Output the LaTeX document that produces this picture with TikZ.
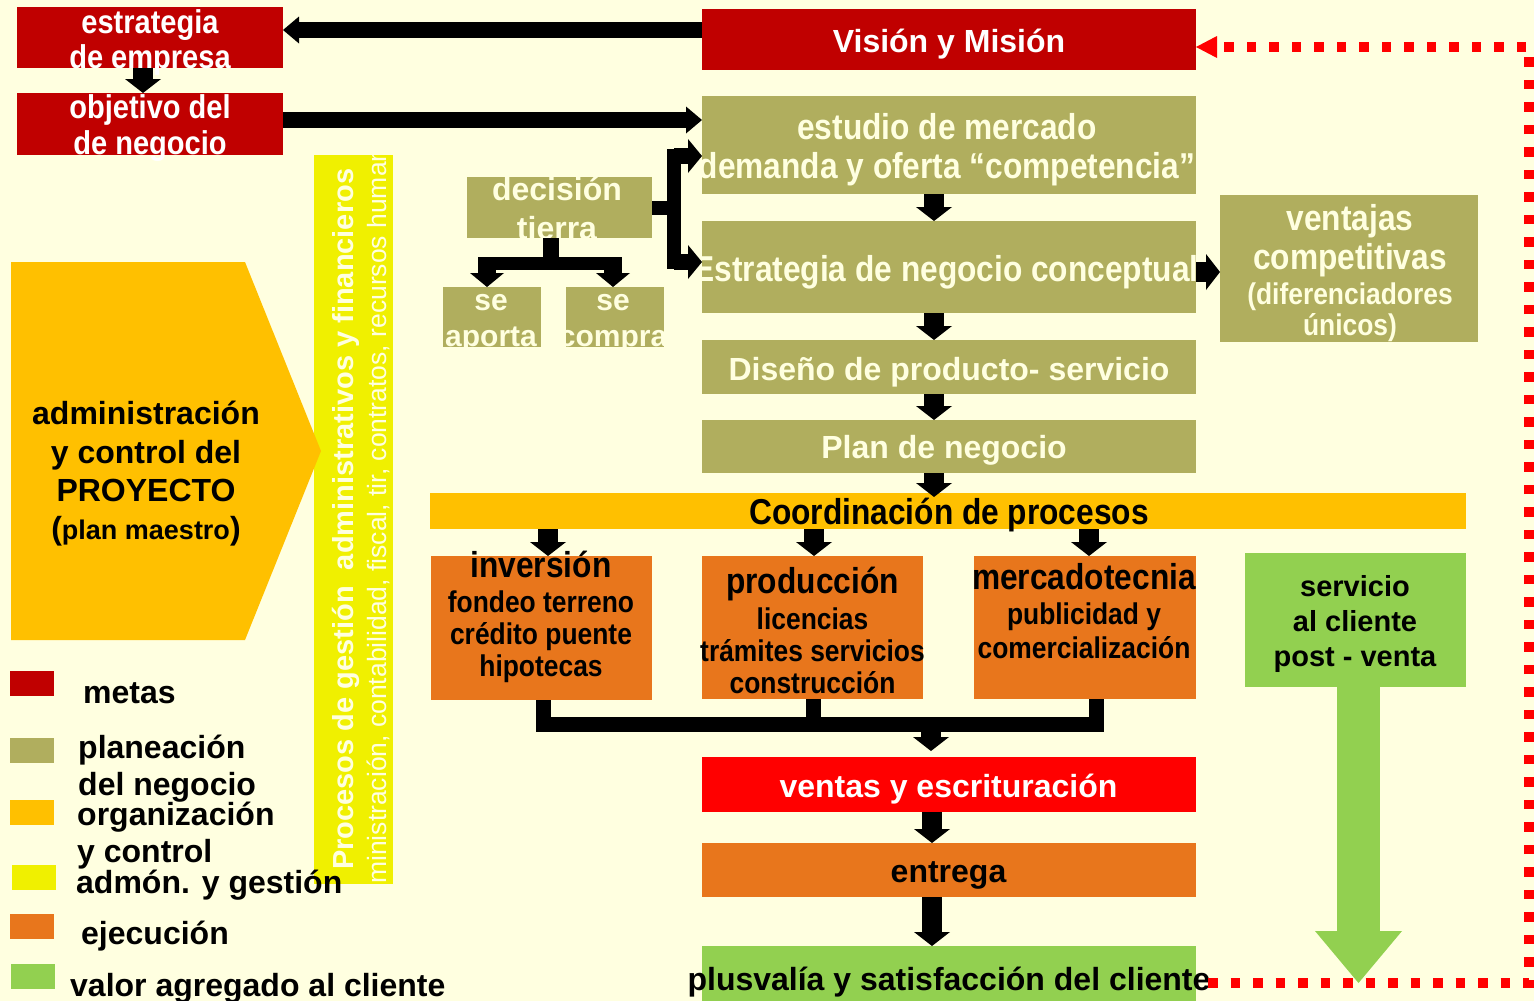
\documentclass[tikz,border=0pt]{standalone}
\usepackage{fontspec}
\setmainfont{Liberation Sans}
\newfontfamily\nar{Liberation Sans}[FakeStretch=0.88]
\usetikzlibrary{arrows.meta,calc}
\definecolor{bg}{HTML}{FFFFE0}
\definecolor{meta}{HTML}{C00000}
\definecolor{plano}{HTML}{B0AE5E}
\definecolor{organ}{HTML}{FFC000}
\definecolor{gestion}{HTML}{F0F000}
\definecolor{ejec}{HTML}{E8761C}
\definecolor{valor}{HTML}{92D050}
\definecolor{rojo}{HTML}{FF0000}
\newcommand{\fsz}[2]{\fontsize{#1}{#2}\selectfont}
\begin{document}
\begin{tikzpicture}[x=1pt,y=-1pt,
  box/.style={rectangle, inner sep=0pt, outer sep=0pt},
  txt/.style={inner sep=0pt, outer sep=0pt, align=center},
  flow/.style={draw=black, line width=20pt, -{Triangle[width=36pt,length=14pt,line width=0pt]}},
  thin flow/.style={draw=black, line width=16pt, -{Triangle[width=34pt,length=14pt,line width=0pt]}},
  long flow/.style={draw=black, line width=16pt, -{Triangle[width=27pt,length=16pt,line width=0pt]}},
  joint/.style={draw=black, line width=15pt},
  lgtxt/.style={anchor=base west, inner sep=0pt, font=\bfseries\fsz{32}{38}},
  lgbox/.style={box, minimum width=44pt, minimum height=25pt},
]
\fill[bg] (0,0) rectangle (1534,1001);
\useasboundingbox (0,0) rectangle (1534,1001);

% goals
\node[box, fill=meta, minimum width=266pt, minimum height=61pt] (estr) at (150,37.5) {};
\node[box, fill=meta, minimum width=266pt, minimum height=62pt] (obj) at (150,124) {};
\node[box, fill=meta, minimum width=494pt, minimum height=61pt] (vision) at (949,39.5) {};

% business planning
\node[box, fill=plano, minimum width=494pt, minimum height=98pt] (estudio) at (949,145) {};
\node[box, fill=plano, minimum width=494pt, minimum height=92pt] (strat) at (949,267) {};
\node[box, fill=plano, minimum width=258pt, minimum height=147pt] (ventajas) at (1349,268.5) {};
\node[box, fill=plano, minimum width=494pt, minimum height=54pt] (diseno) at (949,367) {};
\node[box, fill=plano, minimum width=494pt, minimum height=53pt] (plan) at (949,446.5) {};
\node[box, fill=plano, minimum width=185pt, minimum height=61pt] (decision) at (559.5,207.5) {};
\node[box, fill=plano, minimum width=98pt, minimum height=60pt] (aporta) at (492,317) {};
\node[box, fill=plano, minimum width=98pt, minimum height=60pt] (compra) at (615,317) {};

% administration band
\node[box, fill=gestion, minimum width=79pt, minimum height=729pt] (band) at (353.5,519.5) {};

% organisation and control
\fill[organ] (11,262) -- (245,262) -- (321,451) -- (245,640) -- (11,640) -- cycle;
\node[box, fill=organ, minimum width=1036pt, minimum height=36pt] (coord) at (948,511) {};

% execution
\node[box, fill=ejec, minimum width=221pt, minimum height=144pt] (inv) at (541.5,628) {};
\node[box, fill=ejec, minimum width=221pt, minimum height=143pt] (prod) at (812.5,627.5) {};
\node[box, fill=ejec, minimum width=222pt, minimum height=143pt] (merc) at (1085,627.5) {};
\node[box, fill=rojo, minimum width=494pt, minimum height=55pt] (ventas) at (949,784.5) {};
\node[box, fill=ejec, minimum width=494pt, minimum height=54pt] (entrega) at (949,870) {};

% customer value
\node[box, fill=valor, minimum width=494pt, minimum height=55pt] (plus) at (949,973.5) {};
\node[box, fill=valor, minimum width=221pt, minimum height=134pt] (serv) at (1355.5,620) {};
\coordinate (gtip) at (1358.5,983);
\draw[draw=valor, line width=43pt, -{Triangle[width=87pt,length=52pt,line width=0pt]}] (serv.south -| gtip) -- (gtip);

% texts
\node[txt, text=white, font=\nar\bfseries\fsz{33}{35}] (estr-t) at (150,42.5) {estrategia\\de empresa};
\node[txt, text=white, font=\nar\bfseries\fsz{33}{36}] (obj-t) at (150,128) {objetivo del\\de negocio};
\node[txt, text=white, font=\bfseries\fsz{32}{38}] (vision-t) at (949,44) {Visión y Misión};
\node[txt, text=bg, font=\nar\bfseries\fsz{36}{39}] (estudio-t) at (947,150) {estudio de mercado\\demanda y oferta “competencia”};
\node[txt, text=bg, font=\nar\bfseries\fsz{36}{39}] (strat-t) at (946,272) {Estrategia de negocio conceptual};
\node[txt, text=bg, font=\nar\bfseries\fsz{36}{39}] (ventajas-t) at (1350,273) {ventajas\\competitivas\\[-4pt]{\fsz{30}{31}(diferenciadores}\\[-8pt]{\fsz{30}{31}únicos)}};
\node[txt, text=bg, font=\bfseries\fsz{32}{38}] (diseno-t) at (949,372) {Diseño de producto- servicio};
\node[txt, text=bg, font=\bfseries\fsz{32}{38}] (plan-t) at (944,450) {Plan de negocio};
\node[txt, font=\nar\bfseries\fsz{36}{39}] (coord-t) at (949,515) {Coordinación de procesos};
\node[txt, font=\nar\bfseries\fsz{30}{32}] (inv-t) at (541,617) {{\fsz{36}{39}inversión}\\[3pt]fondeo terreno\\crédito puente\\hipotecas};
\node[txt, font=\nar\bfseries\fsz{30}{32}] (prod-t) at (812.5,630) {{\fsz{36}{39}producción}\\[4pt]licencias\\trámites servicios\\construcción};
\node[txt, font=\nar\bfseries\fsz{30}{34}] (merc-t) at (1084,611) {{\fsz{36}{39}mercadotecnia}\\[1pt]publicidad y\\comercialización};
\node[txt, font=\bfseries\fsz{29}{35}] (serv-t) at (1355,624) {servicio\\al cliente\\post - venta};
\node[txt, text=white, font=\bfseries\fsz{32}{38}] (ventas-t) at (948.5,789) {ventas y escrituración};
\node[txt, font=\bfseries\fsz{32}{38}] (entrega-t) at (948.5,875) {entrega};
\node[txt, font=\bfseries\fsz{32}{38}] (plus-t) at (949,982) {plusvalía y satisfacción del cliente};
\node[txt, text=bg, font=\bfseries\fsz{32}{39}] (decision-t) at (557,208.5) {decisión\\tierra};
\node[txt, text=bg, font=\bfseries\fsz{30}{36}] (aporta-t) at (491,323.5) {se\\aporta};
\node[txt, text=bg, font=\bfseries\fsz{30}{36}] (compra-t) at (613,323.5) {se\\compra};
\node[txt, font=\bfseries\fsz{32}{38.5}] (admin-t) at (146,473.5) {administración\\y control del\\PROYECTO\\[-1pt]{\fsz{27}{30}{\fsz{32}{30}(}plan maestro{\fsz{32}{30})}}};

% vertical band texts
\begin{scope}
  \clip (band.north west) rectangle (band.south east);
  \node[rotate=90, anchor=base west, inner sep=0pt, text=bg, font=\bfseries\fsz{29}{32}] (proc-t) at (353,870) {Procesos de gestión\ \ administrativos y financieros};
  \node[rotate=90, anchor=base west, inner sep=0pt, text=bg, font=\fsz{26.5}{30}] (adm-t) at (386,884) {\llap{ad}ministración, contabilidad, fiscal, tir, contratos, recursos humanos};
\end{scope}

% legend
\node[lgbox, fill=meta] (lg-meta) at (32,683.5) {};
\node[lgbox, fill=plano] (lg-plano) at (32,750.5) {};
\node[lgbox, fill=organ] (lg-organ) at (32,812.5) {};
\node[lgbox, fill=gestion] (lg-gestion) at (33.5,877.5) {};
\node[lgbox, fill=ejec] (lg-ejec) at (32,926.5) {};
\node[lgbox, fill=valor] (lg-valor) at (32.5,976.5) {};
\node[lgtxt] (lg-meta-t) at (83,703) {metas};
\node[lgtxt] (lg-plano-t) at (78,758) {planeación};
\node[lgtxt] (lg-plano-t2) at (78,795) {del negocio};
\node[lgtxt] (lg-organ-t) at (77,825) {organización};
\node[lgtxt] (lg-organ-t2) at (77,862) {y control};
\node[lgtxt] (lg-gestion-t) at (76,893) {admón. y gestión};
\node[lgtxt] (lg-ejec-t) at (81,944) {ejecución};
\node[lgtxt] (lg-valor-t) at (70,996) {valor agregado al cliente};

% connectors: top
\coordinate (va) at (702,30);
\draw[long flow] (va) -- (va -| estr.east);
\coordinate (oa) at (283,120);
\draw[long flow] (oa) -- (oa -| estudio.west);
\coordinate (ea) at (143,0);
\draw[flow] (estr.south -| ea) -- (obj.north -| ea);

% central column
\coordinate (cx) at (934,0);
\draw[flow] (estudio.south -| cx) -- (strat.north -| cx);
\draw[flow] (strat.south -| cx) -- (diseno.north -| cx);
\draw[flow] (diseno.south -| cx) -- (plan.north -| cx);
\draw[flow] (plan.south -| cx) -- ([yshift=-4pt]coord.north -| cx);
\coordinate (sv) at (0,272);
\draw[flow] (strat.east |- sv) -- (ventajas.west |- sv);

% land decision
\coordinate (dj) at (674,0);
\coordinate (du) at (674,156);
\coordinate (dd) at (674,262);
\draw[joint, line width=14pt] (decision.east) -- (decision.east -| dj);
\draw[joint, line width=14pt, line cap=rect] (du) -- (dd);
\draw[thin flow] (du) -- (estudio.west |- du);
\draw[thin flow] (dd) -- (strat.west |- dd);
\coordinate (dt) at (551,270);
\coordinate (hl) at (487,263.5);
\coordinate (hr) at (613,263.5);
\coordinate (al) at (487,257);
\coordinate (ar) at (613,257);
\draw[joint, line width=16pt] ([xshift=-8.5pt]decision.south) -- (dt);
\draw[joint, line width=13pt] (hl) -- (hr);
\draw[thin flow, line width=18pt] (al) -- (al |- aporta.north);
\draw[thin flow, line width=18pt] (ar) -- (ar |- compra.north);

% process coordination
\coordinate (k1) at (548,0);
\coordinate (k2) at (814,0);
\coordinate (k3) at (1089,0);
\draw[flow] (coord.south -| k1) -- (inv.north -| k1);
\draw[flow] (coord.south -| k2) -- (prod.north -| k2);
\draw[flow] (coord.south -| k3) -- (merc.north -| k3);
\coordinate (m1) at (543,724);
\coordinate (m2) at (813,724);
\coordinate (m3) at (1096,724);
\draw[joint, line join=miter] (inv.south -| m1) -- (m1) -- (m3) -- (merc.south -| m3);
\draw[joint] (prod.south -| m2) -- (m2);
\coordinate (mv) at (931,724);
\draw[flow, shorten >=6pt] (mv) -- (ventas.north -| mv);

% delivery
\coordinate (cl) at (932,0);
\draw[flow] (ventas.south -| cl) -- (entrega.north -| cl);
\draw[flow] (entrega.south -| cl) -- (plus.north -| cl);

% feedback loop
\coordinate (d0) at (1208,983);
\coordinate (d1) at (1529,983);
\coordinate (d2) at (1529,47);
\draw[draw=rojo, line width=9.5pt, dash pattern=on 9.5pt off 13pt, -{Triangle[width=22pt,length=21pt,line width=0pt]}] (d0) -- (d1) -- (d2) -- (vision.east |- d2);
\end{tikzpicture}
\end{document}
